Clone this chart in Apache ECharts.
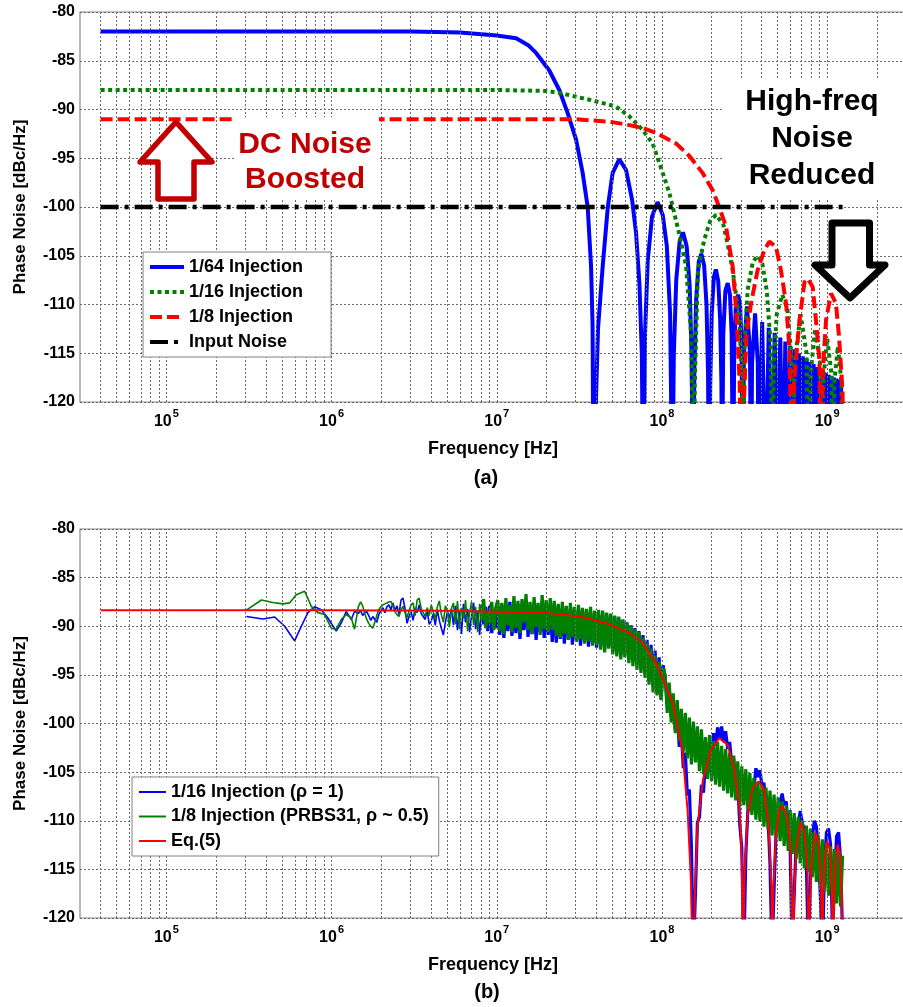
<!DOCTYPE html>
<html><head><meta charset="utf-8">
<script src="https://cdn.jsdelivr.net/npm/echarts@6/dist/echarts.min.js"></script>
<style>html,body{margin:0;padding:0;background:#fff}#c{width:903px;height:1007px}</style>
</head><body><div id="c"></div>
<script>
const FONT = "'Liberation Sans', Arial, Helvetica, sans-serif";

// ---------- (a) simulated curves : [frequency Hz, dBc/Hz] ----------
const pn64 = [
[4e4,-82],[3e6,-82],[6e6,-82.1],[1e7,-82.4],[1.31e7,-82.7],[1.55e7,-83.4],[1.73e7,-84.2],[2.08e7,-86],[2.39e7,-88],[2.69e7,-90.4],[3.02e7,-93.1],[3.31e7,-96.5],[3.55e7,-100],[3.72e7,-106],[3.8e7,-112],[3.85e7,-130],
[3.95e7,-122],[4.1e7,-112.5],[4.38e7,-106],[4.7e7,-100],[5.03e7,-96.5],[5.52e7,-95.1],[6.06e7,-96.2],[6.6e7,-99.3],[6.97e7,-102.7],[7.3e7,-107.8],[7.55e7,-115],[7.7e7,-130],
[7.9e7,-113],[8.2e7,-105.5],[8.7e7,-101],[9.4e7,-99.5],[1.01e8,-100.8],[1.07e8,-104],[1.12e8,-111],[1.155e8,-130],
[1.18e8,-115],[1.22e8,-107.5],[1.28e8,-103.5],[1.34e8,-102.6],[1.41e8,-104],[1.47e8,-108],[1.51e8,-115],[1.54e8,-130],
[1.57e8,-117],[1.61e8,-109.5],[1.67e8,-105.6],[1.73e8,-104.8],[1.8e8,-106],[1.86e8,-110],[1.9e8,-117],[1.925e8,-130],
[1.96e8,-118],[2.0e8,-111],[2.06e8,-107.2],[2.12e8,-106.4],[2.19e8,-107.6],[2.25e8,-111.5],[2.29e8,-118],[2.31e8,-130],
[2.35e8,-113],[2.42e8,-108.6],[2.5e8,-107.8],[2.58e8,-109],[2.64e8,-113],[2.695e8,-130],
[2.74e8,-114],[2.81e8,-109.7],[2.89e8,-109],[2.97e8,-110],[3.03e8,-114],[3.08e8,-130],
[3.13e8,-115],[3.27e8,-110.2],[3.41e8,-115],[3.465e8,-130],
[3.51e8,-116],[3.66e8,-110.9],[3.8e8,-116],[3.85e8,-130],
[4.04e8,-111.8],[4.235e8,-130],[4.43e8,-112.4],[4.62e8,-130],[4.81e8,-112.9],[5.0e8,-130],[5.2e8,-113.4],[5.39e8,-130],
[5.58e8,-113.8],[5.78e8,-130],[5.97e8,-114.2],[6.16e8,-130],[6.35e8,-114.6],[6.55e8,-130],[6.74e8,-115.0],[6.93e8,-130],
[7.12e8,-115.3],[7.32e8,-130],[7.51e8,-115.6],[7.7e8,-130],[7.89e8,-115.9],[8.09e8,-130],[8.28e8,-116.1],[8.47e8,-130],
[8.66e8,-116.4],[8.86e8,-130],[9.05e8,-116.6],[9.24e8,-130],[9.43e8,-116.8],[9.63e8,-130],[9.82e8,-117.0],[1.001e9,-130],
[1.02e9,-117.2],[1.04e9,-130],[1.059e9,-117.3],[1.078e9,-130],[1.097e9,-117.5],[1.117e9,-130],[1.136e9,-117.6],[1.155e9,-130],
[1.174e9,-117.7],[1.193e9,-130],[1.213e9,-117.8],[1.232e9,-130]
];
const pn16 = [
[4e4,-88],[1e7,-88],[2e7,-88.1],[2.39e7,-88.3],[3.64e7,-89],[5.27e7,-89.7],[6.35e7,-90.7],[7.64e7,-92.1],[8.79e7,-93.5],[1.01e8,-96.5],[1.11e8,-98.6],[1.27e8,-102.7],[1.4e8,-106.1],[1.5e8,-113],[1.56e8,-130],
[1.58e8,-118],[1.65e8,-106.5],[1.8e8,-103.4],[1.95e8,-101.5],[2.12e8,-100.8],[2.35e8,-101.8],[2.5e8,-103.8],[2.68e8,-106.5],[2.94e8,-111.6],[3.05e8,-118],[3.1e8,-130],
[3.15e8,-115],[3.3e8,-108.5],[3.55e8,-105.6],[3.8e8,-105],[4.05e8,-105.8],[4.3e8,-108.5],[4.55e8,-114],[4.65e8,-130],
[4.75e8,-116],[4.95e8,-111],[5.35e8,-109],[5.75e8,-110.5],[6.05e8,-115],[6.2e8,-130],
[6.35e8,-116],[6.9e8,-111],[7.5e8,-115],[7.75e8,-130],
[7.95e8,-117],[8.45e8,-112.5],[9.05e8,-116],[9.3e8,-130],
[9.5e8,-117.5],[1.0e9,-113.5],[1.06e9,-117],[1.085e9,-130],
[1.105e9,-118],[1.16e9,-114.3],[1.22e9,-118],[1.24e9,-130]
];
const pn8 = [
[4e4,-91],[3e7,-91],[4.81e7,-91.25],[6.35e7,-91.6],[7.64e7,-91.9],[9.2e7,-92.4],[1.22e8,-93.5],[1.47e8,-94.8],[1.76e8,-96.5],[2.03e8,-98.3],[2.22e8,-100],[2.44e8,-102],[2.68e8,-106.1],[2.83e8,-111.25],[2.95e8,-118],[3.05e8,-130],
[3.1e8,-122],[3.25e8,-113],[3.46e8,-109.9],[3.79e8,-106.5],[4.17e8,-104.4],[4.47e8,-103.55],[4.9e8,-104.1],[5.25e8,-106.5],[5.64e8,-109.9],[5.9e8,-114.3],[6.17e8,-130],
[6.3e8,-118],[6.8e8,-111.6],[7.29e8,-107.7],[7.64e8,-107.35],[8.17e8,-108.2],[8.55e8,-111.6],[8.97e8,-115.7],[9.2e8,-130],
[9.4e8,-117],[9.84e8,-111.6],[1.055e9,-108.85],[1.13e9,-109.9],[1.18e9,-113.3],[1.24e9,-119],[1.245e9,-130]
];
const pnInput = [[4e4,-100],[1.24e9,-100]];

// ---------- (b) Eq.(5) ----------
const eq5 = [
[4e4,-88.35],[1e6,-88.35],[5e6,-88.4],[1e7,-88.5],[2.08e7,-88.65],[3.31e7,-89.05],[4.81e7,-89.8],[6.35e7,-90.7],[7.64e7,-91.7],[9.2e7,-93.8],[1.06e8,-96.2],[1.16e8,-97.9],[1.22e8,-99.6],[1.33e8,-102.8],[1.43e8,-109],[1.5e8,-116.5],[1.55e8,-130],
[1.58e8,-118],[1.64e8,-110.6],[1.77e8,-105.8],[1.98e8,-102.7],[2.22e8,-101.5],[2.5e8,-102.2],[2.74e8,-104.75],[2.94e8,-108.5],[3.05e8,-114],[3.1e8,-130],
[3.15e8,-116],[3.3e8,-109.5],[3.55e8,-106.6],[3.85e8,-105.95],[4.15e8,-106.8],[4.4e8,-110],[4.6e8,-117],[4.65e8,-130],
[4.72e8,-117],[4.9e8,-111.5],[5.1e8,-109.1],[5.35e8,-108.5],[5.65e8,-109.3],[5.95e8,-112],[6.12e8,-117.5],[6.2e8,-130],
[6.3e8,-118],[6.5e8,-112.8],[6.9e8,-110.2],[7.3e8,-111.2],[7.6e8,-115],[7.75e8,-130],
[7.85e8,-118.5],[8.1e8,-113.5],[8.5e8,-111.25],[8.9e8,-112.3],[9.2e8,-117],[9.3e8,-130],
[9.45e8,-118],[9.7e8,-114],[1.0e9,-112.1],[1.04e9,-113],[1.07e9,-117.5],[1.085e9,-130],
[1.1e9,-118],[1.125e9,-114.3],[1.155e9,-112.45],[1.195e9,-113.3],[1.225e9,-118],[1.24e9,-130]
];

// ---------- (b) measured : sparse low-frequency part [Hz, dBc/Hz] ----------
const meas16Low = [[3.05e5,-89.0],[3.84e5,-89.25],[4.52e5,-89.05],[5.2e5,-90.0],[5.97e5,-91.5],[6.56e5,-90.0],[7.19e5,-88.6],[7.89e5,-88.0],[8.66e5,-88.3],[9.5e5,-89.15],[1.067e6,-90.5],[1.145e6,-89.65],[1.227e6,-88.5],[1.316e6,-89.3],[1.378e6,-88.45],[1.45e6,-88.7]];
const meas8Low = [[3.05e5,-88.35],[3.76e5,-87.3],[4.41e5,-87.55],[5.07e5,-87.7],[5.57e5,-87.6],[6.11e5,-86.75],[6.87e5,-86.4],[7.54e5,-87.95],[8.26e5,-88.6],[9.07e5,-88.8],[9.96e5,-90.2],[1.067e6,-90.3],[1.145e6,-89.3],[1.227e6,-88.8],[1.316e6,-89.15],[1.378e6,-90.3],[1.45e6,-88.0]];

// dense part: values on a log-spaced frequency grid (measurement bins) from measGridStartHz to measGridStopHz
const measGridStartHz = 1.5e6, measGridStopHz = 1.24e9;
const meas16 = [
-88.4,-88.9,-88.6,-88.5,-88.9,-89.4,-89.0,-89.3,-89.6,-88.8,-88.4,-88.1,-88.6,-88.0,-87.8,-88.3,-87.6,-88.4,-87.9,-88.8,-87.3,-87.1,-88.2,-89.7,-89.0,-88.5,-89.4,-88.1,-88.6,-87.8,-88.7,-89.0,-89.3,-88.4,-89.8,-89.5,-88.7,-89.9,-88.3,-89.4,-90.2,-90.9,-89.6,-88.5,-89.15,-88.2,
-89.9,-87.9,-90.4,-88.3,-90.8,-87.7,-89.6,-88.2,-90.6,-88.9,-87.6,-90.3,-88.4,-90.9,-87.8,-89.8,-88.0,-90.5,-87.9,-90.7,-88.6,-90.2,
-88.1,-90.9,-87.8,-91.2,-88.4,-90.5,-87.5,-91.0,-88.2,-90.7,-87.7,-91.3,-88.5,-90.4,-87.4,-91.1,-88.0,-90.8,-87.6,-91.4,-88.3,-90.6,-87.5,-91.2,-88.1,-90.9,-87.8,-91.6,
-88.0,-91.7,-87.9,-91.3,-88.2,-91.8,-88.1,-91.4,-88.3,-91.9,-88.2,-91.5,-88.4,-92.0,-88.3,-91.6,-88.5,-92.1,-88.6,-91.8,-88.7,-92.2,-88.8,
-92.0,-88.6,-92.3,-88.8,-92.1,-88.9,-92.6,-89.0,-92.8,-89.2,-93.0,-89.4,-92.9,-89.6,-93.4,-89.9,-93.6,-90.2,-94.0,-90.5,-94.4,-90.9,-94.9,-91.4,-95.6,-91.9,-96.2,-92.5,-96.9,-93.2,-97.5,-94.0,
-95.2,-98.0,-96.2,-99.3,-97.6,-100.6,-98.9,-102.4,-100.8,-104.6,-103.0,-107.4,-106.8,-112.5,-124,
-117.5,-110.2,-109.6,-106.3,-107.1,-103.9,-104.8,-102.2,-103.4,-101.0,-102.3,-100.4,-101.6,-100.3,-101.9,-100.8,-102.6,-101.9,-104.2,-103.6,-106.6,-106.2,-110.4,-112.8,-124,
-113.5,-109.0,-108.7,-106.0,-106.8,-104.6,-105.5,-104.8,-106.4,-106.1,-108.9,-109.6,-114.5,-124,
-117.0,-111.2,-109.3,-108.2,-107.2,-108.4,-108.0,-110.3,-113.0,-124,
-117.5,-112.0,-110.4,-109.0,-110.2,-110.9,-114.0,-124,
-116.5,-111.6,-110.0,-110.6,-112.9,-118.0,-124,
-114.5,-111.2,-110.8,-112.4,-122,
-116.0,-111.6,-111.2,-114.0,-122
];
const meas8 = [
-87.5,-87.9,-88.7,-89.3,-89.7,-90.0,-90.2,-89.6,-88.9,-88.3,-88.0,-87.8,-87.7,-87.6,-87.5,-87.45,-87.9,-88.5,-88.8,-89.0,-88.3,
-87.95,-88.6,-89.1,-88.4,-87.8,-87.6,-88.9,-87.3,-87.1,-88.2,-88.6,-89.0,-88.1,-88.9,-87.8,-88.5,-89.3,-88.0,-87.4,-88.8,-89.6,-87.9,-88.4,-90.1,-88.2,
-87.6,-89.8,-87.4,-90.3,-88.1,-89.2,-87.3,-90.5,-88.6,-87.5,-89.9,-88.0,-90.6,-87.7,-89.4,-87.2,-90.2,-88.4,-89.7,-87.5,-90.4,-88.1,
-87.3,-90.5,-87.6,-90.8,-87.1,-89.9,-87.8,-90.6,-86.9,-90.2,-87.4,-90.7,-87.2,-89.6,-86.7,-90.4,-87.5,-90.8,-87.0,-90.1,-87.6,-90.9,-86.8,-90.3,-87.3,-90.6,-87.1,-90.4,
-87.4,-91.0,-87.7,-91.2,-87.5,-90.8,-87.9,-91.4,-87.6,-91.1,-88.0,-91.6,-87.8,-91.3,-88.1,-91.8,-88.2,-91.5,-88.0,-92.0,-88.4,-91.9,-88.3,
-92.4,-88.4,-92.7,-88.6,-92.3,-88.7,-92.9,-88.9,-93.1,-89.0,-93.4,-89.3,-93.2,-89.6,-93.8,-89.9,-94.1,-90.3,-94.5,-90.6,-94.8,-91.2,-95.3,-91.7,-96.0,-92.3,-96.8,-93.0,-97.1,-93.6,-97.6,-94.3,
-95.0,-98.9,-95.8,-99.9,-96.9,-101.0,-97.6,-101.8,-98.5,-102.9,-98.9,-103.6,-99.4,-104.2,-99.8,-104.0,-100.3,-104.9,-100.6,-105.2,-101.4,-105.7,-101.2,-105.9,-101.8,-106.3,-101.9,-106.5,-102.3,-106.9,-102.6,-107.2,-103.0,-107.6,-103.3,-107.9,-103.9,-108.5,-104.4,-108.4,-104.7,-108.9,-105.1,-109.4,-105.6,-109.9,-106.0,-110.1,-106.3,-110.6,-106.6,-110.9,-106.9,-111.5,-107.3,-111.7,-107.6,-112.1,-108.0,-112.6,-108.4,-113.1,-108.9,-113.4,-109.2,-113.9,-109.6,-114.4,-110.0,-114.9,-110.5,-115.3,-110.8,-115.8,-111.2,-116.3,-111.5,-116.9,-111.9,-117.3,-112.3,-117.7,-112.6,-118.0,-112.9,-118.5,-113.2,-118.8,-113.6
];

// axis settings
const yTicksMin = -120, yTicksMax = -80, yTickStep = 5;
const xMinHz = 3e4, xMaxHz = 3e9;
const gridMantissas = [1,2,3,4,5,6,7,8,9];
const gridDecades = [1e4,1e5,1e6,1e7,1e8,1e9];

const legendA = ['1/64 Injection','1/16 Injection','1/8 Injection','Input Noise'];
const legendB = ['1/16 Injection (\u03c1 = 1)','1/8 Injection (PRBS31, \u03c1 ~ 0.5)','Eq.(5)'];

// ---------- build ----------
const DENSE_FROM = 60; // grid index from which the measured trace is drawn as a dense band
function withGrid(low, vals) {
  const a = Math.log10(measGridStartHz), b = Math.log10(measGridStopHz), n = vals.length;
  return low.concat(vals.map((v, i) => [Math.pow(10, a + (b - a) * i / (n - 1)), v]));
}
function splitMeas(low, vals) {
  const all = withGrid(low, vals), k = low.length + DENSE_FROM;
  return [all.slice(0, k + 1), all.slice(k)];
}
const m16 = splitMeas(meas16Low, meas16);
const m8 = splitMeas(meas8Low, meas8);

const xLines = [];
gridDecades.forEach(d => gridMantissas.forEach(m => { const v = d * m; if (v > xMinHz * 1.01 && v < xMaxHz * 0.99) xLines.push({xAxis: v}); }));

function fmtX(v) {
  const l = Math.log10(v), e = Math.round(l);
  if (Math.abs(l - e) > 1e-6 || e < 5 || e > 9) return '';
  return '{b|10}{s|' + e + '}';
}
const gridLineStyle = {color: '#6a6a6a', type: [2, 2], width: 1};
function xAxisCfg(gi) {
  return {
    type: 'log', logBase: 10, min: xMinHz, max: xMaxHz, gridIndex: gi,
    axisLine: {show: false}, axisTick: {show: false}, splitLine: {show: false}, minorTick: {show: false}, minorSplitLine: {show: false},
    axisLabel: {margin: 9, formatter: fmtX, color: '#000',
      rich: {
        b: {fontFamily: FONT, fontWeight: 'bold', fontSize: 16, lineHeight: 16, padding: [6, 0, 0, 0], color: '#000'},
        s: {fontFamily: FONT, fontWeight: 'bold', fontSize: 11, lineHeight: 12, padding: [0, 0, 10, 1], color: '#000'}
      }},
    name: 'Frequency [Hz]', nameLocation: 'middle', nameGap: 38,
    nameTextStyle: {fontFamily: FONT, fontWeight: 'bold', fontSize: 18, color: '#000'}
  };
}
function yAxisCfg(gi) {
  return {
    type: 'value', min: yTicksMin, max: yTicksMax, interval: yTickStep, gridIndex: gi,
    axisLine: {show: false}, axisTick: {show: false},
    splitLine: {show: true, lineStyle: gridLineStyle},
    axisLabel: {color: '#000', fontFamily: FONT, fontWeight: 'bold', fontSize: 16, margin: 5},
    name: 'Phase Noise [dBc/Hz]', nameLocation: 'middle', nameGap: 51, nameRotate: 90,
    nameTextStyle: {fontFamily: FONT, fontWeight: 'bold', fontSize: 17, color: '#000'}
  };
}
function gridSeries(gi) {
  return {type: 'line', xAxisIndex: gi, yAxisIndex: gi, data: [[1e5, -300]], showSymbol: false, symbol: 'none',
    lineStyle: {width: 0, opacity: 0}, z: 1, silent: true,
    markLine: {silent: true, symbol: ['none', 'none'], label: {show: false}, animation: false,
      lineStyle: gridLineStyle, emphasis: {disabled: true}, data: xLines}};
}
function lineS(name, gi, data, color, width, type, z) {
  return {name, type: 'line', xAxisIndex: gi, yAxisIndex: gi, data, showSymbol: false, symbol: 'none',
    lineStyle: {color, width, type: type || 'solid'}, itemStyle: {color}, z: z || 3, silent: true, clip: true};
}
const legendText = {fontFamily: FONT, fontWeight: 'bold', fontSize: 18, color: '#000', lineHeight: 20};

const option = {
  animation: false,
  backgroundColor: '#fff',
  grid: [
    {left: 80, top: 12, width: 826, height: 390, outerBoundsMode: 'none', show: true, borderColor: '#8a8a8a', borderWidth: 1.2, backgroundColor: 'transparent'},
    {left: 80, top: 529, width: 826, height: 389, outerBoundsMode: 'none', show: true, borderColor: '#8a8a8a', borderWidth: 1.2, backgroundColor: 'transparent'}
  ],
  xAxis: [xAxisCfg(0), xAxisCfg(1)],
  yAxis: [yAxisCfg(0), yAxisCfg(1)],
  legend: [
    {data: legendA, orient: 'vertical', left: 143, top: 252, itemWidth: 34, itemHeight: 14, itemGap: 5,
      padding: [5, 28, 5, 5], backgroundColor: '#fff', borderColor: '#808080', borderWidth: 1,
      textStyle: legendText, itemStyle: {opacity: 0}, lineStyle: {width: 4}, selectedMode: false, z: 20},
    {data: legendB, orient: 'vertical', left: 132, top: 777, itemWidth: 27, itemHeight: 14, itemGap: 4.5,
      padding: [5, 10, 5, 6], backgroundColor: '#fff', borderColor: '#808080', borderWidth: 1,
      textStyle: legendText, itemStyle: {opacity: 0}, lineStyle: {width: 2}, selectedMode: false, z: 20}
  ],
  series: [
    gridSeries(0), gridSeries(1),
    lineS(legendA[0], 0, pn64, '#0000ff', 4, 'solid', 3),
    lineS(legendA[1], 0, pn16, '#008000', 4, [4, 3.5], 4),
    lineS(legendA[2], 0, pn8, '#ff0000', 4, [12, 5], 5),
    lineS(legendA[3], 0, pnInput, '#000000', 4.5, [18, 6, 4, 6], 6),
    lineS(legendB[0], 1, m16[0], '#0000ff', 1.6, 'solid', 3),
    lineS(legendB[0], 1, m16[1], '#0000ff', 3.2, 'solid', 3),
    lineS(legendB[1], 1, m8[0], '#008000', 1.6, 'solid', 4),
    lineS(legendB[1], 1, m8[1], '#008000', 3.2, 'solid', 4),
    lineS(legendB[2], 1, eq5, '#ff0000', 2, 'solid', 5)
  ],
  graphic: [
    {type: 'rect', silent: true, z: 50, shape: {x: 236, y: 117, width: 143, height: 82}, style: {fill: '#fff'}},
    {type: 'rect', silent: true, z: 50, shape: {x: 722, y: 80, width: 181, height: 118}, style: {fill: '#fff'}},
    {type: 'polygon', silent: true, z: 51, shape: {points: [[176,122],[212,162],[194,162],[194,199],[158,199],[158,162],[140,162]]},
      style: {fill: '#fff', stroke: '#c00000', lineWidth: 5.5, lineJoin: 'round'}},
    {type: 'polygon', silent: true, z: 51, shape: {points: [[832,223],[869.5,223],[869.5,265],[885,265],[850,298],[815,265],[832,265]]},
      style: {fill: '#fff', stroke: '#000', lineWidth: 7, lineJoin: 'round'}},
    {type: 'text', silent: true, z: 52, x: 305, y: 145, style: {text: 'DC Noise', fill: '#c00000', font: 'bold 30px ' + FONT, textAlign: 'center', align: 'center', textVerticalAlign: 'middle', verticalAlign: 'middle'}},
    {type: 'text', silent: true, z: 52, x: 305, y: 180, style: {text: 'Boosted', fill: '#c00000', font: 'bold 30px ' + FONT, textAlign: 'center', align: 'center', textVerticalAlign: 'middle', verticalAlign: 'middle'}},
    {type: 'text', silent: true, z: 52, x: 812, y: 102, style: {text: 'High-freq', fill: '#000', font: 'bold 30px ' + FONT, textAlign: 'center', align: 'center', textVerticalAlign: 'middle', verticalAlign: 'middle'}},
    {type: 'text', silent: true, z: 52, x: 812, y: 139, style: {text: 'Noise', fill: '#000', font: 'bold 30px ' + FONT, textAlign: 'center', align: 'center', textVerticalAlign: 'middle', verticalAlign: 'middle'}},
    {type: 'text', silent: true, z: 52, x: 812, y: 176, style: {text: 'Reduced', fill: '#000', font: 'bold 30px ' + FONT, textAlign: 'center', align: 'center', textVerticalAlign: 'middle', verticalAlign: 'middle'}},
    {type: 'text', silent: true, z: 52, x: 486, y: 478, style: {text: '(a)', fill: '#000', font: 'bold 20px ' + FONT, textAlign: 'center', align: 'center', textVerticalAlign: 'middle', verticalAlign: 'middle'}},
    {type: 'text', silent: true, z: 52, x: 487, y: 992, style: {text: '(b)', fill: '#000', font: 'bold 20px ' + FONT, textAlign: 'center', align: 'center', textVerticalAlign: 'middle', verticalAlign: 'middle'}}
  ]
};
const chart = echarts.init(document.getElementById('c'), null, {renderer: 'canvas'});
chart.setOption(option);
</script></body></html>
